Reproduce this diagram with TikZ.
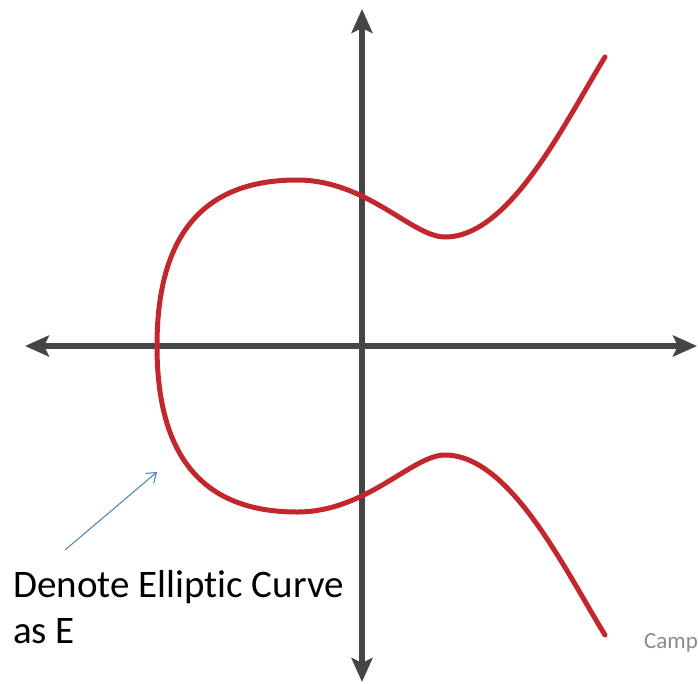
\documentclass[tikz,border=0pt]{standalone}
\usepackage{fontspec}
\setmainfont[Ligatures=NoCommon]{Carlito}
\usetikzlibrary{arrows.meta}
\definecolor{axisgray}{HTML}{454545}
\definecolor{curvered}{HTML}{C1272D}
\definecolor{noteblue}{HTML}{4A7EBB}
\definecolor{srcgray}{HTML}{8A8A8A}
\tikzset{
  axisline/.style={draw=axisgray, line width=5.5pt,
    -{Stealth[length=24pt,width=21pt,inset=5pt]}},
  curveline/.style={draw=curvered, line width=5pt, line cap=round},
  noteline/.style={draw=noteblue, line width=1pt,
    -{Straight Barb[length=9pt,width=13pt,line width=1pt]}},
  notetext/.style={font=\fontsize{39}{46}\selectfont, text=black, inner sep=0pt, align=left},
  srctext/.style={font=\fontsize{23}{27}\selectfont, text=srcgray, inner sep=0pt}
}
\begin{document}
\begin{tikzpicture}[x=1pt,y=-1pt]
\useasboundingbox (0,0) rectangle (698,683);
% axes
\coordinate (xl) at (25,346);
\coordinate (xr) at (697,346);
\coordinate (yt) at (362,9);
\coordinate (yb) at (362,682);
\coordinate (o) at (362,346);
\draw[axisline] (o) -- (xl);
\draw[axisline] (o) -- (xr);
\draw[axisline] (o) -- (yt);
\draw[axisline] (o) -- (yb);
% elliptic curve, upper branch
\draw[curveline] (157,346)
  .. controls (157,245) and (195,180) .. (297,180)
  .. controls (367,180) and (412,237) .. (445,237)
  .. controls (510,237) and (565,122) .. (605,57);
% lower branch (mirror about y = 346)
\draw[curveline] (157,346)
  .. controls (157,447) and (195,512) .. (297,512)
  .. controls (367,512) and (412,455) .. (445,455)
  .. controls (510,455) and (565,570) .. (605,635);
% annotation
\coordinate (arrS) at (65,550);
\coordinate (arrE) at (157,472);
\draw[noteline] (arrS) -- (arrE);
\node[notetext, anchor=base west] (note) at (13,643) {Denote Elliptic Curve\\as E};
\node[srctext, anchor=base west] (src) at (644,648) {Camp};
\end{tikzpicture}
\end{document}
